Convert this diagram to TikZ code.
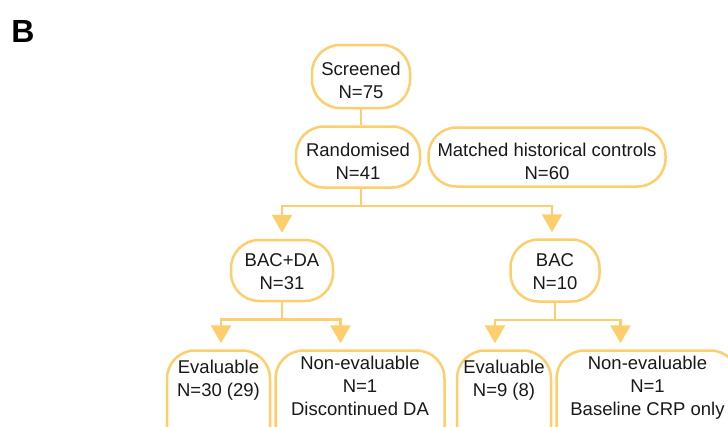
\documentclass[tikz,border=0pt]{standalone}
\usepackage{fontspec}
\setmainfont{Liberation Sans}
\usetikzlibrary{positioning, arrows.meta}
\definecolor{flowline}{RGB}{255,206,108}

\begin{document}
\begin{tikzpicture}[auto, x=1pt, y=1pt, node distance=16pt,
        >={Triangle[width=20pt,length=18pt]},
        font=\fontsize{18.5}{23}\selectfont,
        frame/.style = {draw=flowline, line width=2.5pt, rounded corners=28pt, align=center, text=black!90, inner sep=0pt},
        box/.style = {frame, execute at begin node={\rule{0pt}{45pt}}},
        arm/.style = {frame, execute at begin node={\rule{0pt}{39pt}}},
        leaf/.style = {frame, anchor=north, inner ysep=6pt, text depth=64pt},
        evalbox/.style = {leaf, inner ysep=10pt, text depth=56pt},
        link/.style = {draw=flowline, line width=2.5pt},
        arrow/.style = {link, ->, shorten >=6pt},
        ]
        \useasboundingbox (0,0) rectangle (728,-426);
        \node [font=\fontsize{32}{32}\selectfont\bfseries] (panel) at (23,-31) {B};

        \node [box, minimum width=98pt, minimum height=63pt] (screened) at (361,-76.5) {Screened\\N=75};
        \node [box, below=16pt of screened, xshift=-3pt, minimum width=124pt, minimum height=61pt] (randomised) {Randomised\\N=41};
        \node [box, right=6pt of randomised, minimum width=237pt, minimum height=59pt] (historical) {Matched historical controls\\N=60};
        \node [arm, below=50pt of randomised, xshift=-76pt, minimum width=102pt, minimum height=61pt] (bacda) {BAC+DA\\N=31};
        \node [arm, right=175pt of bacda, minimum width=89pt, minimum height=62pt] (bac) {BAC\\N=10};

        \node [evalbox, below=47pt of bacda, xshift=-63.5pt, minimum width=103pt] (eval1) {Evaluable\\N=30 (29)};
        \node [leaf, right=3pt of eval1.north east, anchor=north west, minimum width=169pt] (noneval1) {Non-evaluable\\N=1\\Discontinued DA};
        \node [evalbox, right=10pt of noneval1.north east, anchor=north west, minimum width=94pt] (eval2) {Evaluable\\N=9 (8)};
        \node [leaf, right=3pt of eval2.north east, anchor=north west, minimum width=182pt] (noneval2) {Non-evaluable\\N=1\\Baseline CRP only};

        \draw [link] (screened.south) -- (screened.south |- randomised.north);
        \draw [arrow] (screened.south |- randomised.south) -- ++(0,-17pt) coordinate (fork1) -| (bacda);
        \draw [arrow] (fork1) -| ([xshift=-3pt]bac.north);
        \draw [arrow] (bacda.south) -- ++(0,-17pt) coordinate (fork2) -| ([xshift=2.5pt]eval1.north);
        \draw [arrow] (fork2) -| ([xshift=-19.5pt]noneval1.north);
        \draw [arrow] (bac.south) -- ++(0,-17pt) coordinate (fork3) -| ([xshift=-9pt]eval2.north);
        \draw [arrow] (fork3) -| ([xshift=-27pt]noneval2.north);
\end{tikzpicture}
\end{document}
